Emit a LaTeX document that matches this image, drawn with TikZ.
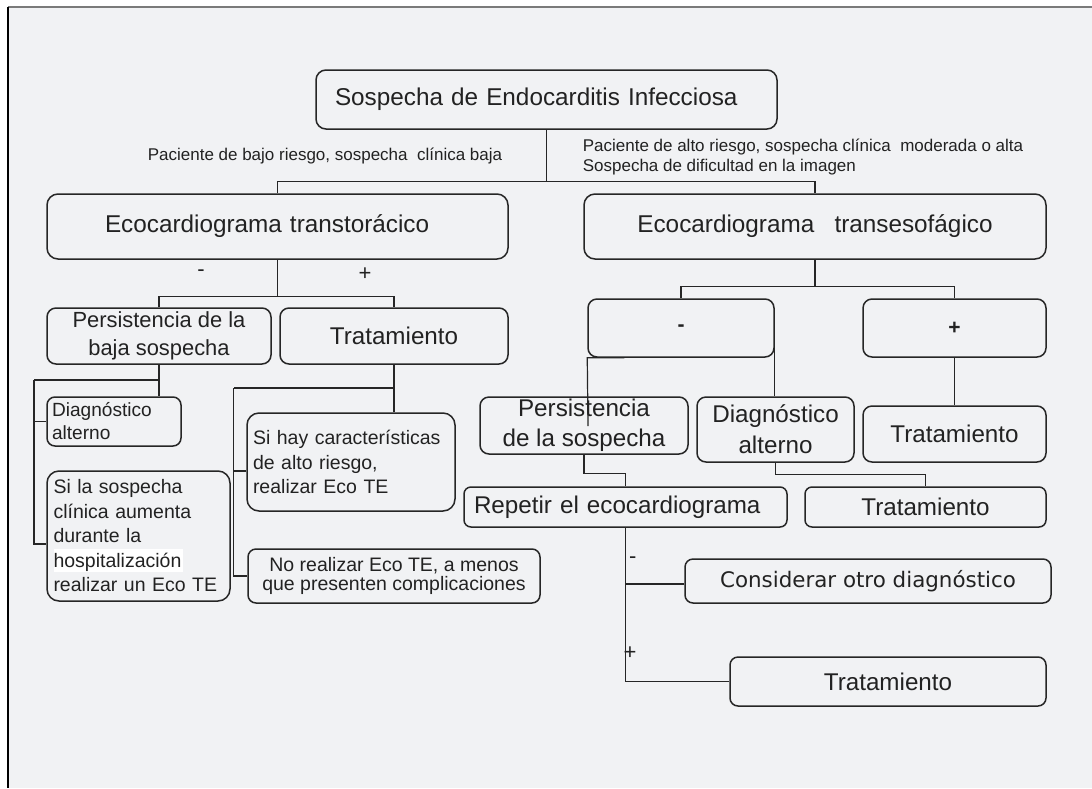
\documentclass[tikz,border=0pt]{standalone}
\usepackage{fontspec}
\setmainfont{Liberation Sans}
\newfontfamily\dvsansfam{DejaVu Sans}
\usetikzlibrary{calc}
\definecolor{bgc}{HTML}{F1F2F4}
\definecolor{lnc}{HTML}{262626}
\definecolor{txc}{HTML}{222222}
\definecolor{frc}{HTML}{7A7A7A}
\begin{document}
\begin{tikzpicture}[x=1pt,y=-1pt,
  bx/.style={draw=lnc, line width=1.5pt, rounded corners=9pt, inner sep=0pt, text=txc, anchor=center},
  cn/.style={draw=lnc, line width=1.2pt},
  lb/.style={inner sep=0pt, text=txc},
  fT/.style={font=\fontsize{24.3pt}{30pt}\selectfont},
  fM/.style={font=\fontsize{24.2pt}{30pt}\selectfont},
  fP/.style={font=\fontsize{21.9pt}{28pt}\selectfont},
  fS/.style={font=\fontsize{19.5pt}{24.5pt}\selectfont},
  fD/.style={font=\fontsize{19.1pt}{23pt}\selectfont},
  fL/.style={font=\fontsize{17pt}{20pt}\selectfont},
  fG/.style={font=\fontsize{22pt}{26pt}\selectfont},
  fB/.style={font=\fontsize{21pt}{26pt}\selectfont\bfseries},
  fC/.style={font=\fontsize{21.4pt}{26pt}\dvsansfam\selectfont}
]
\useasboundingbox (0,0) rectangle (1092,788);
% page frame
\fill[white] (0,0) rectangle (1092,788);
\fill[bgc] (8.4,6.7) rectangle (1092,788);
\draw[frc, line width=2pt] (8.4,6.7) -- (1092,6.7);
\draw[black, line width=2pt] (8.4,6.7) -- (8.4,788);

% boxes
\node[bx, rounded corners=10pt, fT, minimum height=59pt, text width=423pt, inner xsep=19pt, align=left] (top) at (546.5,99.5) {Sospecha de Endocarditis Infecciosa};
\node[bx, rounded corners=11pt, fT, minimum height=65pt, text width=345pt, inner xsep=58pt, align=left] (ett) at (277.5,226.5) {Ecocardiograma transtorácico};
\node[bx, rounded corners=11pt, fT, minimum width=462pt, minimum height=65pt, align=center] (ete) at (815,226.5) {Ecocardiograma\ \ \ transesofágico};

\node[bx, fP, minimum width=224pt, minimum height=56pt, align=center] (pbaja) at (159,336) {Persistencia de la\\baja sospecha};
\node[bx, fM, minimum width=228pt, minimum height=56pt, align=center] (trat1) at (394,336) {Tratamiento};
\node[bx, rounded corners=8pt, fD, minimum height=49pt, text width=124pt, inner xsep=5pt, align=left] (diag1) at (114,421.5) {Diagnóstico\\alterno};
\node[bx, rounded corners=12pt, fS, minimum height=130pt, text width=170pt, inner xsep=6.5pt, align=left] (sila) at (138.5,536) {Si la sospecha\\clínica aumenta\\durante la\\\makebox[0pt][l]{\textcolor{white}{\rule[-5pt]{129.4pt}{23pt}}}hospitalización\\realizar un Eco TE};
\node[bx, rounded corners=12pt, fS, minimum height=98pt, text width=196pt, inner xsep=6pt, align=left] (sihay) at (351,462) {Si hay características\\de alto riesgo,\\realizar Eco TE};
\node[bx, rounded corners=8pt, font=\fontsize{19.5pt}{19pt}\selectfont, minimum width=292pt, minimum height=54pt, align=center] (norea) at (394,576) {No realizar Eco TE, a menos\\que presenten complicaciones};

\node[bx, fB, minimum width=186pt, minimum height=58pt] (neg) at (681,328) {-};
\node[bx, fB, minimum width=183pt, minimum height=58pt] (pos) at (954.5,328) {+};
\node[bx, font=\fontsize{24.2pt}{30pt}\selectfont, minimum width=208pt, minimum height=57pt, align=center] (pers2) at (584,425.5) {Persistencia\\de la sospecha};
\node[bx, font=\fontsize{24.2pt}{31pt}\selectfont, minimum width=157pt, minimum height=65pt, align=center] (diag2) at (775.5,429.5) {Diagnóstico\\alterno};
\node[bx, fM, minimum width=183pt, minimum height=56pt] (trat2) at (954.5,434) {Tratamiento};
\node[bx, rounded corners=7pt, fM, minimum height=40pt, text width=303pt, inner xsep=10pt, align=left] (rep) at (625.5,507) {Repetir el ecocardiograma};
\node[bx, rounded corners=7pt, fM, minimum width=241pt, minimum height=40pt] (trat3) at (925.5,507) {Tratamiento};
\node[bx, rounded corners=8pt, fC, minimum width=366pt, minimum height=44pt] (cons) at (868,581) {Considerar otro diagnóstico};
\node[bx, rounded corners=8pt, fM, minimum width=316pt, minimum height=49pt] (trat4) at (888,681.5) {Tratamiento};

% labels
\node[lb, fL] (lbaj) at (325,156) {Paciente de bajo riesgo, sospecha\ \ clínica baja};
\node[lb, fL, anchor=west, align=left] (lalt) at (582.6,157) {Paciente de alto riesgo, sospecha clínica\ \ moderada o alta\\Sospecha de dificultad en la imagen};
\node[lb, fG] (m1) at (201,273) {-};
\node[lb, fG] (p1) at (365,274) {+};
\node[lb, fG] (m2) at (632.7,560) {-};
\node[lb, fG] (p2) at (630,653) {+};

% connectors
\coordinate (j1) at ($(top.south)+(0,52)$);
\draw[cn] (top.south) -- (j1);
\draw[cn] (ett.north) |- (j1) -| (ete.north);

\coordinate (j2) at ($(ett.south)+(0,37)$);
\draw[cn] (ett.south) -- (j2);
\draw[cn] (pbaja.north) |- (j2) -| (trat1.north);

\coordinate (b1) at (34,380);
\draw[cn] (pbaja.south) -- (pbaja.south |- diag1.north);
\draw[cn] (pbaja.south |- b1) -- (b1);
\coordinate (sw) at ([yshift=-8pt]sila.west);
\draw[cn] (b1) |- (sw);
\draw[cn] (b1 |- diag1.west) -- (diag1.west);

\coordinate (b2) at (233.6,388);
\draw[cn] (trat1.south) -- (trat1.south |- sihay.north);
\draw[cn] (trat1.south |- b2) -- (b2);
\draw[cn] (b2) |- (norea.west);
\coordinate (hw) at ([yshift=-9pt]sihay.west);
\draw[cn] (b2 |- hw) -- (hw);

\coordinate (j3) at ($(ete.south)+(0,27)$);
\draw[cn] (ete.south) -- (j3);
\draw[cn] (neg.north) |- (j3) -| (pos.north);

\coordinate (nl) at (588,426);
\draw[cn] ([xshift=37pt]neg.south west) -- (neg.south west) -- (nl);
\draw[cn] ([yshift=10pt]neg.south east) -- (neg.south east |- diag2.north);
\draw[cn] (pos.south) -- (trat2.north);

\draw[cn] (pers2.south) -- ++(0,19) -| (rep.north);
\draw[cn] (diag2.south) -- ++(0,12) -| (trat3.north);

\draw[cn] (rep.south) |- (trat4.west);
\coordinate (cw) at ([yshift=-3pt]cons.west);
\draw[cn] (cw) -- (rep.south |- cw);
\end{tikzpicture}
\end{document}
